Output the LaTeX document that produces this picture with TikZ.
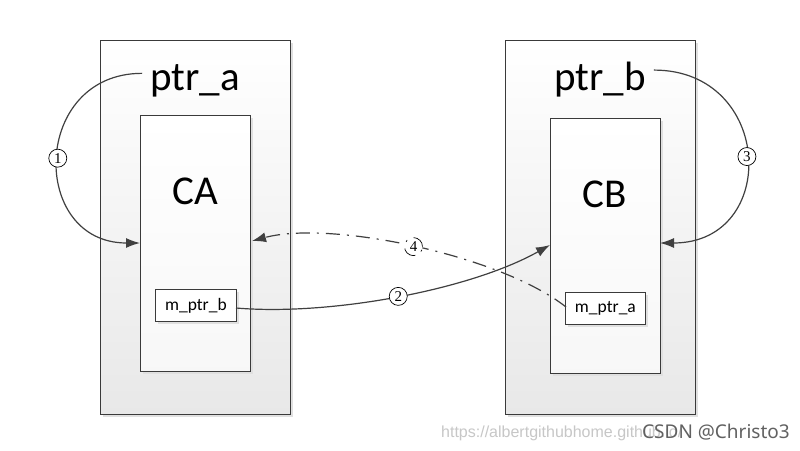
\documentclass[tikz,border=0pt]{standalone}
\usepackage{fontspec}
\setmainfont{Carlito}
\newfontfamily\numfont{Liberation Serif}
\newfontfamily\wmfont{Liberation Sans}
\newfontfamily\csdnfont{Noto Sans}
\usetikzlibrary{arrows.meta,shadows}
\definecolor{linec}{HTML}{404040}
\definecolor{boxline}{HTML}{3A3A3A}
\tikzset{
  outerbox/.style={draw=boxline, line width=0.8pt, top color=white, bottom color=black!9,
    minimum width=190pt, minimum height=374pt, anchor=north west, inner sep=0pt,
    drop shadow={shadow xshift=3pt, shadow yshift=-3pt, fill=black!12, opacity=1}},
  innerbox/.style={draw=boxline, line width=0.8pt, top color=white, bottom color=black!3,
    minimum width=110pt, anchor=north west, inner sep=0pt,
    drop shadow={shadow xshift=3pt, shadow yshift=-3pt, fill=black!12, opacity=1}},
  membox/.style={draw=boxline, line width=0.8pt, fill=white, anchor=north west, inner sep=0pt,
    minimum height=32pt, font=\fontsize{17.5}{20}\selectfont,
    drop shadow={shadow xshift=3pt, shadow yshift=-3pt, fill=black!12, opacity=1}},
  bigtext/.style={font=\fontsize{41}{46}\selectfont, inner sep=8pt},
  conn/.style={draw=linec, line width=1.2pt, -{Latex[length=14pt,width=10pt]}},
  num/.style={circle, draw=black, line width=0.7pt, fill=white, inner sep=0pt, minimum size=18pt,
    font=\numfont\fontsize{15}{15}\selectfont},
}
\begin{document}
\begin{tikzpicture}[x=1pt,y=-1pt]
\useasboundingbox (0,0) rectangle (800,450);
\fill[white] (0,0) rectangle (800,450);

% outer boxes
\node[outerbox] (A) at (100,40) {};
\node[outerbox] (B) at (505,40) {};
% inner boxes
\node[innerbox, minimum height=256pt] (CAbox) at (140,115) {};
\node[innerbox, minimum height=255pt] (CBbox) at (550,118) {};
% member boxes
\node[membox, minimum width=81pt] (mb) at (155,289) {m\_ptr\_b};
\node[membox, minimum width=80pt] (ma) at (565,292) {m\_ptr\_a};

% texts
\node[bigtext, anchor=base] (pa) at (195,90) {ptr\_a};
\node[bigtext, anchor=base] (pb) at (600,90) {ptr\_b};
\node[bigtext, anchor=base, inner sep=0pt] (ca) at (195,204) {CA};
\node[bigtext, anchor=base, inner sep=0pt] (cb) at (605,207) {CB};

% endpoints
\coordinate (s1) at ([yshift=7pt]pa.west);
\coordinate (e1) at (140,243);
\coordinate (s3) at ([yshift=9pt]pb.east);
\coordinate (e3) at (660,243);
\coordinate (s2) at (236,308);
\coordinate (e2) at (550,245);
\coordinate (s4) at (566,307);
\coordinate (e4) at (252,241);

% connectors
\draw[conn] (s1) .. controls +(-111,0) and +(-111,0) .. (e1) node[pos=0.5, num] {1};
\draw[conn] (s3) .. controls +(120,0) and +(120,0) .. (e3) node[pos=0.5, num] {3};
\draw[conn] (s2) .. controls (330,316) and (470,290) .. (e2) node[pos=0.5, num] {2};
\draw[conn, dash pattern=on 14pt off 7pt on 2pt off 7pt] (s4) .. controls (500,255) and (330,220) .. (e4) node[pos=0.5, num] {4};

% watermark
\node[anchor=base west, inner sep=0pt, text=black!22, font=\wmfont\fontsize{16}{16}\selectfont] (wm1) at (441,437) {https://albertgithubhome.github.io/};
\node[anchor=base east, inner sep=0pt, text=black!62, font=\csdnfont\fontsize{19}{19}\selectfont] (wm2) at (790,438) {CSDN @Christo3};
\end{tikzpicture}
\end{document}
